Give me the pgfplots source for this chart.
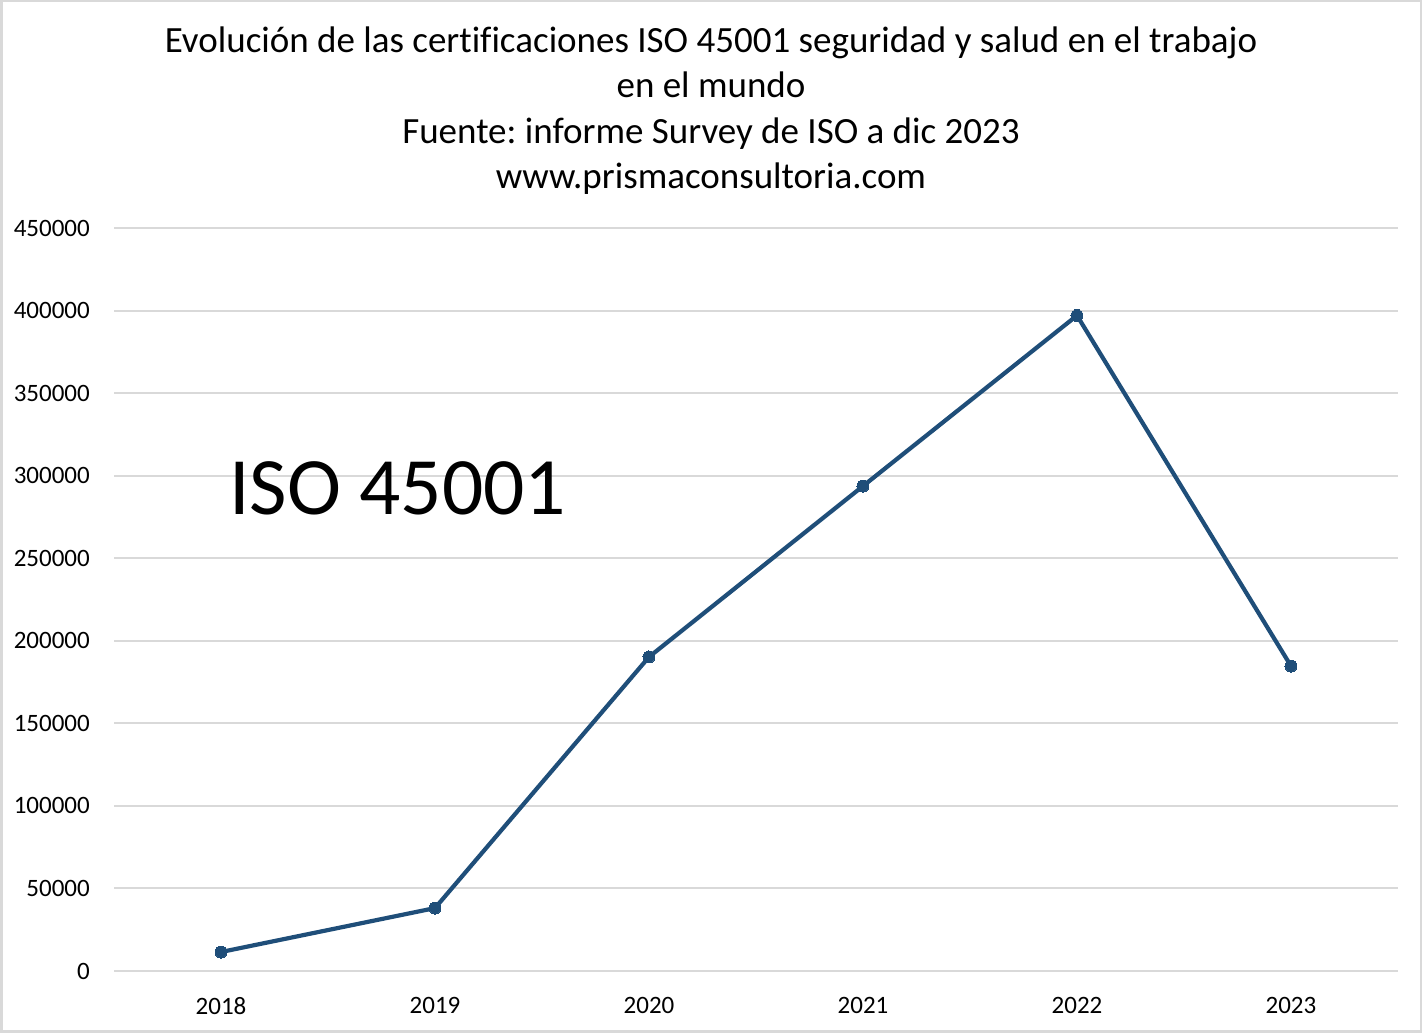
\documentclass[border=0pt]{standalone}
\usepackage{pgfplots}
\pgfplotsset{compat=1.18}
\usepackage{fontspec}
\setmainfont{Carlito}[Ligatures={NoCommon}]
\frenchspacing
\definecolor{lineblue}{HTML}{1F4E79}
\definecolor{gridgray}{HTML}{D9D9D9}
\begin{document}
\begin{tikzpicture}
\path[use as bounding box] (0,0) rectangle (1422bp,1033bp);
\draw[gridgray, line width=2.5bp] (1.25bp,1.25bp) rectangle (1420.75bp,1031.75bp);
\begin{axis}[
  at={(114bp,62bp)}, anchor=south west,
  scale only axis, width=1284bp, height=743bp,
  xmin=-0.5, xmax=5.5, ymin=0, ymax=450000,
  axis line style={draw=none},
  major tick length=0pt,
  xtick={0,1,2,3,4,5},
  xticklabels={2018,2019,2020,2021,2022,2023},
  ytick={0,50000,100000,150000,200000,250000,300000,350000,400000,450000},
  scaled y ticks=false,
  yticklabel={\pgfmathprintnumber[fixed,1000 sep={}]{\tick}},
  /pgf/number format/assume math mode=true,
  ymajorgrids, grid style={gridgray, line width=2bp},
  tick label style={font=\fontsize{25bp}{29bp}\selectfont, inner sep=0pt},
  yticklabel style={anchor=east, xshift=-24bp},
  xticklabel style={anchor=north, yshift=-26bp},
  clip=false,
]
\addplot[lineblue, line width=4.2bp, mark=*, mark size=6bp, mark options={fill=lineblue, draw=lineblue, line width=0pt}]
 coordinates {(0,11500) (1,38100) (2,190200) (3,293700) (4,397000) (5,184700)};
\end{axis}
\begin{scope}[every node/.style={inner sep=0pt, anchor=base, font=\fontsize{37bp}{44bp}\selectfont}]
\node at (711bp,980bp) {Evolución de las certificaciones ISO 45001 seguridad y salud en el trabajo};
\node at (711bp,935bp) {en el mundo};
\node at (711bp,889.5bp) {Fuente: informe Survey de ISO a dic 2023};
\node at (711bp,844bp) {www.prismaconsultoria.com};
\end{scope}
\node[inner sep=0pt, anchor=base west, font=\fontsize{81.5bp}{96bp}\selectfont] at (229bp,518bp) {ISO 45001};
\end{tikzpicture}
\end{document}
